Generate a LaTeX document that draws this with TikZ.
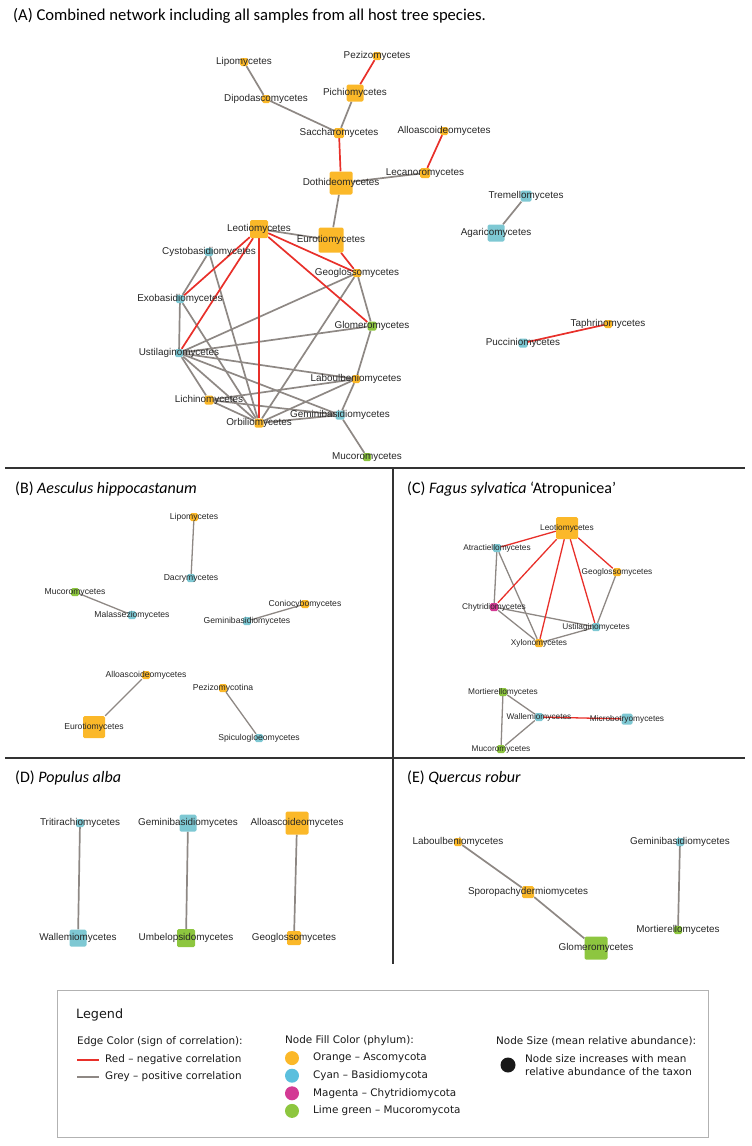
\documentclass[tikz,border=0pt]{standalone}
\usepackage{fontspec}
\setmainfont{Carlito}
\newfontfamily\netfont{Liberation Sans}
\newfontfamily\legfont{DejaVu Sans}
\usetikzlibrary{backgrounds}

\definecolor{ascoC}{HTML}{FBB829}
\definecolor{basiC}{HTML}{7EC8D3}
\definecolor{chytC}{HTML}{D33A94}
\definecolor{mucoC}{HTML}{8DC63F}
\definecolor{negC}{HTML}{E8302A}
\definecolor{posC}{HTML}{8E8884}
\definecolor{legC}{HTML}{5BBFDD}

\tikzset{
  taxon/.style={rectangle, rounded corners=1.5pt, inner sep=0pt, minimum size=#1},
  asco/.style={taxon=#1, fill=ascoC}, asco/.default=8,
  basi/.style={taxon=#1, fill=basiC}, basi/.default=8,
  chyt/.style={taxon=#1, fill=chytC}, chyt/.default=8,
  muco/.style={taxon=#1, fill=mucoC}, muco/.default=8,
  tx/.style={label={center:#1}},
  lblsize/.style={every label/.style={font=\netfont\fontsize{#1}{11}\selectfont, inner sep=0pt, text=black!85}},
  negcor/.style={draw=negC, line width=1.7pt},
  poscor/.style={draw=posC, line width=1.7pt},
  ptitle/.style={anchor=west, inner sep=0pt, font=\fontsize{16}{19}\selectfont},
  divider/.style={draw=black!80, line width=1.3pt},
  legtext/.style={anchor=west, inner sep=0pt, text=black!90, font=\legfont\fontsize{10.4}{12.5}\selectfont, align=left},
}

\begin{document}
\begin{tikzpicture}[x=1pt, y=-1pt]
  \useasboundingbox (0,0) rectangle (752,1146);

  % panel dividers
  \draw[divider] (5,468) -- (745,468);
  \draw[divider] (5,758) -- (745,758);
  \draw[divider] (393,468) -- (393,964);

  % ---------------- (A) combined network
  \node[ptitle, font=\fontsize{16.6}{19}\selectfont] (titA) at (13,16)
    {(A) Combined network including all samples from all host tree species.};
  \begin{scope}[lblsize=9.9]
    \node[asco] (aLip) at (244,62) [tx=Lipomycetes] {};
    \node[asco] (aPez) at (377,56) [tx=Pezizomycetes] {};
    \node[asco] (aDip) at (266,99) [tx=Dipodascomycetes] {};
    \node[asco=17] (aPic) at (355,93) [tx=Pichiomycetes] {};
    \node[asco=10] (aSac) at (339,133) [tx=Saccharomycetes] {};
    \node[asco] (aAll) at (444,131) [tx=Alloascoideomycetes] {};
    \node[asco=10] (aLec) at (425,173) [tx=Lecanoromycetes] {};
    \node[asco=23] (aDot) at (341,183) [tx=Dothideomycetes] {};
    \node[asco=18] (aLeo) at (259,229) [tx=Leotiomycetes] {};
    \node[asco=25] (aEur) at (331,240) [tx=Eurotiomycetes] {};
    \node[basi] (aCys) at (209,252) [tx=Cystobasidiomycetes] {};
    \node[asco] (aGeo) at (357,273) [tx=Geoglossomycetes] {};
    \node[basi] (aExo) at (180,299) [tx=Exobasidiomycetes] {};
    \node[muco=9] (aGlo) at (372,326) [tx=Glomeromycetes] {};
    \node[basi] (aUst) at (179,353) [tx=Ustilaginomycetes] {};
    \node[asco] (aLab) at (356,379) [tx=Laboulbeniomycetes] {};
    \node[asco=9] (aLic) at (209,400) [tx=Lichinomycetes] {};
    \node[basi=9] (aGem) at (340,415) [tx=Geminibasidiomycetes] {};
    \node[asco=9] (aOrb) at (259,423) [tx=Orbiliomycetes] {};
    \node[muco] (aMuc) at (367,457) [tx=Mucoromycetes] {};
    \node[basi=11] (aTre) at (526,196) [tx=Tremellomycetes] {};
    \node[basi=17] (aAga) at (496,233) [tx=Agaricomycetes] {};
    \node[asco] (aTap) at (608,324) [tx=Taphrinomycetes] {};
    \node[basi=9] (aPuc) at (523,343) [tx=Pucciniomycetes] {};
  \end{scope}
  \begin{scope}[on background layer]
    \foreach \a/\b in {aLip/aDip, aDip/aSac, aPic/aSac, aLec/aDot, aDot/aEur, aLeo/aEur,
        aCys/aExo, aCys/aOrb, aExo/aUst, aExo/aOrb, aUst/aGeo, aUst/aGlo, aUst/aLab,
        aUst/aGem, aUst/aLic, aUst/aOrb, aGeo/aGlo, aGeo/aOrb, aGlo/aLab, aLab/aGem,
        aLab/aLic, aLab/aOrb, aLic/aOrb, aLic/aGem, aGem/aOrb, aGem/aMuc, aTre/aAga}
      \draw[poscor] (\a) -- (\b);
    \foreach \a/\b in {aPez/aPic, aSac/aDot, aAll/aLec, aLeo/aExo, aLeo/aUst, aLeo/aOrb,
        aLeo/aGeo, aLeo/aGlo, aEur/aGeo, aTap/aPuc}
      \draw[negcor] (\a) -- (\b);
  \end{scope}

  % ---------------- (B) Aesculus
  \node[ptitle] (titB) at (15,489) {(B) \textit{Aesculus hippocastanum}};
  \begin{scope}[lblsize=8.6]
    \node[asco] (bLip) at (194,517) [tx=Lipomycetes] {};
    \node[basi] (bDac) at (191,578) [tx=Dacrymycetes] {};
    \node[muco] (bMuc) at (75,592) [tx=Mucoromycetes] {};
    \node[basi] (bMal) at (132,615) [tx=Malasseziomycetes] {};
    \node[asco] (bCon) at (305,604) [tx=Coniocybomycetes] {};
    \node[basi] (bGem) at (247,621) [tx=Geminibasidiomycetes] {};
    \node[asco] (bAll) at (146,675) [tx=Alloascoideomycetes] {};
    \node[asco=22] (bEur) at (94,727) [tx=Eurotiomycetes] {};
    \node[asco] (bPez) at (223,688) [tx=Pezizomycotina] {};
    \node[basi] (bSpi) at (259,738) [tx=Spiculogloeomycetes] {};
  \end{scope}
  \begin{scope}[on background layer]
    \foreach \a/\b in {bLip/bDac, bMuc/bMal, bCon/bGem, bAll/bEur, bPez/bSpi}
      \draw[poscor, line width=1.3pt] (\a) -- (\b);
  \end{scope}

  % ---------------- (C) Fagus
  \node[ptitle] (titC) at (407,489) {(C) \textit{Fagus sylvatica} ‘Atropunicea’};
  \begin{scope}[lblsize=8.3]
    \node[asco=22] (cLeo) at (567,528) [tx=Leotiomycetes] {};
    \node[basi] (cAtr) at (497,548) [tx=Atractiellomycetes] {};
    \node[asco] (cGeo) at (617,572) [tx=Geoglossomycetes] {};
    \node[chyt] (cChy) at (494,607) [tx=Chytridiomycetes] {};
    \node[basi] (cUst) at (596,627) [tx=Ustilaginomycetes] {};
    \node[asco] (cXyl) at (539,643) [tx=Xylonomycetes] {};
    \node[muco] (cMor) at (503,692) [tx=Mortierellomycetes] {};
    \node[basi] (cWal) at (539,717) [tx=Wallemiomycetes] {};
    \node[basi=11] (cMic) at (627,719) [tx=Microbotryomycetes] {};
    \node[muco] (cMuc) at (501,749) [tx=Mucoromycetes] {};
  \end{scope}
  \begin{scope}[on background layer]
    \foreach \a/\b in {cAtr/cChy, cAtr/cXyl, cGeo/cUst, cChy/cXyl, cChy/cUst, cXyl/cUst,
        cMor/cWal, cMor/cMuc, cWal/cMuc}
      \draw[poscor, line width=1.3pt] (\a) -- (\b);
    \foreach \a/\b in {cLeo/cAtr, cLeo/cChy, cLeo/cXyl, cLeo/cUst, cLeo/cGeo, cWal/cMic}
      \draw[negcor, line width=1.3pt] (\a) -- (\b);
  \end{scope}

  % ---------------- (D) Populus
  \node[ptitle] (titD) at (15,778) {(D) \textit{Populus alba}};
  \begin{scope}[lblsize=9.9]
    \node[basi] (dTri) at (80,823) [tx=Tritirachiomycetes] {};
    \node[basi=17] (dWal) at (78,938) [tx=Wallemiomycetes] {};
    \node[basi=17] (dGem) at (188,823) [tx=Geminibasidiomycetes] {};
    \node[muco=18] (dUmb) at (186,938) [tx=Umbelopsidomycetes] {};
    \node[asco=23] (dAll) at (297,823) [tx=Alloascoideomycetes] {};
    \node[asco=14] (dGeo) at (294,938) [tx=Geoglossomycetes] {};
  \end{scope}
  \begin{scope}[on background layer]
    \foreach \a/\b in {dTri/dWal, dGem/dUmb, dAll/dGeo}
      \draw[poscor] (\a) -- (\b);
  \end{scope}

  % ---------------- (E) Quercus
  \node[ptitle] (titE) at (407,778) {(E) \textit{Quercus robur}};
  \begin{scope}[lblsize=9.9]
    \node[asco] (eLab) at (458,842) [tx=Laboulbeniomycetes] {};
    \node[asco=12] (eSpo) at (528,892) [tx=Sporopachydermiomycetes] {};
    \node[muco=23] (eGlo) at (596,948) [tx=Glomeromycetes] {};
    \node[basi] (eGem) at (680,842) [tx=Geminibasidiomycetes] {};
    \node[muco] (eMor) at (678,930) [tx=Mortierellomycetes] {};
  \end{scope}
  \begin{scope}[on background layer]
    \foreach \a/\b in {eLab/eSpo, eSpo/eGlo, eGem/eMor}
      \draw[poscor] (\a) -- (\b);
  \end{scope}

  % ---------------- legend
  \draw[black!30, line width=0.8pt] (57,990) rectangle (708,1137);
  \node[legtext, font=\legfont\fontsize{12.8}{14}\selectfont] (legT) at (76,1015) {Legend};
  \node[legtext] (legE) at (77,1042) {Edge Color (sign of correlation):};
  \coordinate (rA) at (77,1060); \coordinate (rB) at (99,1060);
  \coordinate (gA) at (77,1077); \coordinate (gB) at (99,1077);
  \draw[draw=negC, line width=2.5pt] (rA) -- (rB);
  \draw[draw=posC, line width=2.5pt] (gA) -- (gB);
  \node[legtext] (legR) at (105,1060) {Red – negative correlation};
  \node[legtext] (legG) at (105,1077) {Grey – positive correlation};

  \node[legtext] (legF) at (285,1041) {Node Fill Color (phylum):};
  \foreach \c/\t [count=\i] in {ascoC/Orange – Ascomycota, legC/Cyan – Basidiomycota,
      chytC/Magenta – Chytridiomycota, mucoC/Lime green – Mucoromycota} {
    \node[circle, fill=\c, minimum size=14pt, inner sep=0pt] (dot\i) at (292,1040.5+17.6*\i) {};
    \node[legtext] (phy\i) at (313,1040.5+17.6*\i) {\t};
  }

  \node[legtext] (legS) at (496,1041) {Node Size (mean relative abundance):};
  \node[circle, fill=black!90, minimum size=15pt, inner sep=0pt] (sizeDot) at (508,1065) {};
  \node[legtext] (legSz) at (525,1065) {Node size increases with mean\\relative abundance of the taxon};
\end{tikzpicture}
\end{document}
